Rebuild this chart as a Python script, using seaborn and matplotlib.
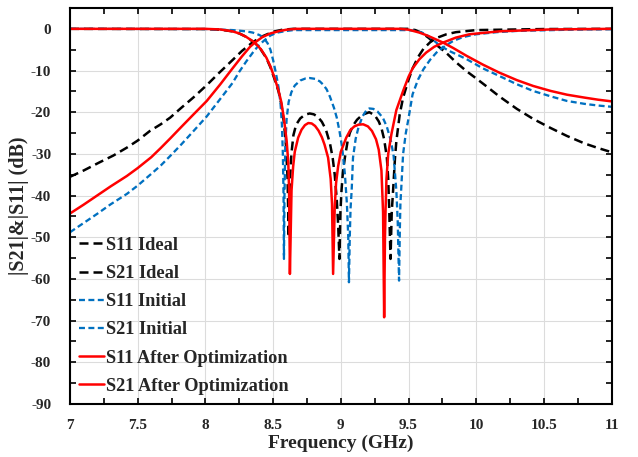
import numpy as np
import matplotlib
matplotlib.use("Agg")
import matplotlib.pyplot as plt
from matplotlib.ticker import MultipleLocator
import seaborn as sns

# frequency (GHz) / magnitude (dB)
ideal_s11_f = [7.0, 8.0, 8.11, 8.2, 8.25, 8.3, 8.37, 8.41, 8.45, 8.48, 8.51, 8.54, 8.56, 8.58, 8.595,
               8.607, 8.615, 8.622, 8.635, 8.65, 8.67, 8.7, 8.735, 8.77, 8.8, 8.83, 8.86, 8.89, 8.92,
               8.94, 8.955, 8.97, 8.98, 8.99, 8.997, 9.005, 9.015, 9.03, 9.05, 9.066, 9.09, 9.12, 9.16,
               9.21, 9.25, 9.28, 9.3, 9.32, 9.34, 9.35, 9.357, 9.367, 9.376, 9.386, 9.4, 9.41, 9.435,
               9.46, 9.5, 9.53, 9.57, 9.61, 9.66, 9.706, 9.78, 9.85, 10.0, 10.5, 11.0]
ideal_s11_db = [0, -0.05, -0.2, -0.6, -1.1, -1.9, -3.5, -5, -7, -9.2, -12, -15, -18, -22.5, -28,
                -36, -50, -38, -30, -25.5, -23, -21.5, -20.6, -20.3, -20.5, -21.1, -22.3, -24.2, -27.5,
                -31, -35, -41, -46.8, -55.2, -44, -38.8, -34.5, -30.9, -27, -25, -23.2, -21.8, -20.6,
                -20, -20.7, -22.2, -23.8, -26.5, -30.9, -36, -42.8, -55.2, -44, -38.8, -31, -27, -20.5,
                -16.5, -12.2, -9.5, -6.8, -4.8, -3.2, -2.2, -1.3, -0.8, -0.3, -0.05, 0]

ideal_s21_f = [7.0, 7.1, 7.22, 7.32, 7.42, 7.5, 7.59, 7.67, 7.74, 7.82, 7.91, 8.01, 8.1, 8.2, 8.27,
               8.35, 8.42, 8.5, 8.57, 8.65, 9.0, 9.5, 9.55, 9.6, 9.65, 9.7, 9.78, 9.85, 9.93,
               10.0, 10.08, 10.17, 10.3, 10.42, 10.55, 10.67, 10.8, 10.9, 11.0]
ideal_s21_db = [-35.5, -34, -32, -30.4, -28.5, -26.8, -24.5, -22.9, -21.3, -19, -16.5, -13.5, -10.6, -7.5, -5.3,
                -3.2, -1.8, -0.7, -0.2, 0, 0, 0, -0.3, -1, -2.2, -3.7, -5.8, -8, -10.2,
                -11.9, -13.9, -16.2, -19.2, -21.6, -23.8, -25.7, -27.5, -28.6, -29.6]

init_s11_f = [7.0, 8.0, 8.2, 8.3, 8.35, 8.4, 8.43, 8.46, 8.48, 8.5, 8.52, 8.54, 8.555, 8.565, 8.572,
              8.577, 8.58, 8.584, 8.59, 8.6, 8.615, 8.635, 8.66, 8.7, 8.74, 8.77, 8.81, 8.845, 8.87,
              8.895, 8.92, 8.95, 8.97, 8.99, 9.01, 9.03, 9.045, 9.055, 9.06, 9.066, 9.072, 9.08, 9.09,
              9.11, 9.13, 9.16, 9.19, 9.21, 9.24, 9.27, 9.31, 9.34, 9.37, 9.39, 9.41, 9.42, 9.43,
              9.436, 9.44, 9.46, 9.48, 9.497, 9.53, 9.57, 9.61, 9.66, 9.706, 9.77, 9.83, 9.9, 10.0,
              10.15, 10.3, 10.7, 11.0]
init_s11_db = [0, -0.05, -0.3, -0.6, -0.9, -1.5, -2.1, -3.5, -5, -7.5, -10.5, -14, -18, -23, -30,
               -40, -55.2, -40, -28, -21.5, -17.5, -15.2, -13.6, -12.4, -11.9, -11.8, -12.0, -12.6, -13.4,
               -14.5, -16.3, -19, -21.3, -24.5, -28.5, -34.8, -42, -50, -60.8, -50, -43, -38.8, -30.9,
               -26.3, -23.7, -21, -19.5, -19.1, -19.2, -19.8, -21.3, -23.5, -26.9, -30.5, -38.8, -46, -60.4,
               -48, -42, -30, -25, -22, -15.7, -12.2, -9.7, -7.4, -5.7, -4.1, -2.9, -2.0, -1.3,
               -0.8, -0.5, -0.2, -0.1]

init_s21_f = [7.0, 7.1, 7.2, 7.3, 7.42, 7.5, 7.6, 7.67, 7.74, 7.82, 7.91, 8.01, 8.11, 8.2, 8.25,
              8.3, 8.35, 8.39, 8.43, 8.48, 8.53, 8.6, 8.65, 9.0, 9.5, 9.55, 9.6, 9.65, 9.68,
              9.73, 9.8, 9.86, 9.93, 10.05, 10.17, 10.3, 10.42, 10.55, 10.67, 10.8, 10.9, 11.0]
init_s21_db = [-48.8, -46.6, -44.4, -42.1, -39.6, -37.6, -34.8, -32.8, -30.5, -27.8, -24.6, -21.0, -16.8, -13.0, -10.3,
               -7.9, -5.7, -4.1, -2.9, -1.6, -0.9, -0.5, -0.3, -0.3, -0.3, -0.5, -0.9, -1.8, -2.6,
               -4.0, -5.3, -6.2, -7.3, -9.5, -11.3, -13.3, -14.9, -16.2, -17.3, -18.0, -18.4, -18.7]

opt_s11_f = [7.0, 8.0, 8.11, 8.2, 8.25, 8.3, 8.365, 8.41, 8.45, 8.48, 8.51, 8.54, 8.56, 8.58, 8.6,
             8.612, 8.618, 8.624, 8.636, 8.648, 8.66, 8.685, 8.71, 8.735, 8.76, 8.785, 8.81, 8.835, 8.86,
             8.88, 8.906, 8.925, 8.935, 8.943, 8.955, 8.965, 8.98, 9.0, 9.04, 9.07, 9.1, 9.13, 9.165,
             9.2, 9.23, 9.26, 9.28, 9.3, 9.312, 9.32, 9.326, 9.33, 9.337, 9.35, 9.374, 9.41, 9.46,
             9.5, 9.53, 9.58, 9.63, 9.69, 9.755, 9.85, 9.95, 10.17, 10.54, 11.0]
opt_s11_db = [0, 0, -0.15, -0.6, -1.1, -1.9, -3.3, -4.9, -6.9, -9, -11.7, -14.8, -17.5, -21.5, -26.9,
              -32, -38.8, -58.8, -38.8, -33, -29.5, -26.1, -24.2, -23.1, -22.6, -22.7, -23.3, -24.4, -26.0,
              -27.8, -30.9, -36, -42, -58.8, -42.8, -37, -33, -29.5, -26.1, -24.3, -23.4, -23.0, -22.9,
              -23.4, -24.5, -26.5, -29, -34, -44, -69.2, -50, -44, -36, -30, -25.2, -19.5, -14.9,
              -11.5, -9.5, -7.3, -5.7, -4.3, -3.3, -2.1, -1.3, -0.6, -0.15, 0]

opt_s21_f = [7.0, 7.1, 7.2, 7.3, 7.42, 7.5, 7.6, 7.67, 7.74, 7.82, 7.91, 8.01, 8.11, 8.2, 8.27,
             8.33, 8.365, 8.42, 8.48, 8.55, 8.6, 8.67, 9.0, 9.435, 9.5, 9.58, 9.63, 9.68, 9.755,
             9.83, 9.93, 10.05, 10.17, 10.3, 10.42, 10.55, 10.67, 10.8, 10.9, 11.0]
opt_s21_db = [-44.3, -42.2, -40, -37.8, -35.3, -33.4, -30.8, -28.6, -26.3, -23.6, -20.6, -17.3, -13.3, -9.5, -6.6,
              -4.3, -3.3, -2.0, -1.1, -0.5, -0.2, 0, 0, 0, -0.2, -0.9, -1.5, -2.2, -3.3,
              -4.6, -6.5, -8.6, -10.5, -12.3, -13.7, -14.9, -15.8, -16.5, -17.0, -17.4]

xticks = [7, 7.5, 8, 8.5, 9, 9.5, 10, 10.5, 11]
xtick_labels = ['7', '7.5', '8', '8.5', '9', '9.5', '10', '10.5', '11']
yticks = [-90, -80, -70, -60, -50, -40, -30, -20, -10, 0]

sns.set_style("ticks")
plt.rcParams['font.family'] = ['Liberation Serif', 'DejaVu Serif']
plt.rcParams['font.weight'] = 'bold'
plt.rcParams['axes.labelweight'] = 'bold'
plt.rcParams['axes.unicode_minus'] = False

fig = plt.figure(figsize=(6.38, 4.57), dpi=100)
ax = fig.add_axes([0.1097, 0.116, 0.849, 0.8665])

black_ls = (0, (3.6, 2.0))
blue_ls = (0, (2.6, 1.5))
blue = '#0070C0'
red = '#FF0000'

series = [
    (ideal_s11_f, ideal_s11_db, 'black', black_ls, 1.8, 'S11 Ideal'),
    (ideal_s21_f, ideal_s21_db, 'black', black_ls, 1.8, 'S21 Ideal'),
    (init_s11_f, init_s11_db, blue, blue_ls, 1.65, 'S11 Initial'),
    (init_s21_f, init_s21_db, blue, blue_ls, 1.65, 'S21 Initial'),
    (opt_s11_f, opt_s11_db, red, '-', 1.8, 'S11 After Optimization'),
    (opt_s21_f, opt_s21_db, red, '-', 1.8, 'S21 After Optimization'),
]
for f, db, c, ls, lw, lab in series:
    sns.lineplot(x=f, y=db, ax=ax, color=c, linestyle=ls, linewidth=lw, label=lab,
                 sort=False, estimator=None)

ax.set_xlim(7, 11)
ax.set_ylim(-90, 5)
ax.set_xticks(xticks)
ax.set_xticklabels(xtick_labels)
ax.set_yticks(yticks)
ax.xaxis.set_minor_locator(MultipleLocator(0.25))
ax.yaxis.set_minor_locator(MultipleLocator(5))
ax.tick_params(which='both', direction='in', top=True, right=True, length=4, width=1.2, color='black')
ax.tick_params(axis='x', labelsize=11, pad=11)
ax.tick_params(axis='y', labelsize=11, pad=13.5)
ax.grid(True, which='major', color='#dcdcdc', linewidth=0.8)
for s in ax.spines.values():
    s.set_color('black')
    s.set_linewidth(1.5)

ax.set_xlabel('Frequency (GHz)', fontsize=14, labelpad=1.5)
ax.set_ylabel('|S21|&|S11| (dB)', fontsize=14.5, labelpad=1)

ax.legend(loc='lower left', frameon=False, fontsize=13.2, handlelength=1.37, handletextpad=0.1,
          labelspacing=0.61, borderaxespad=0.1, bbox_to_anchor=(0.0, 0.0))

fig.savefig('out.png', dpi=100)
